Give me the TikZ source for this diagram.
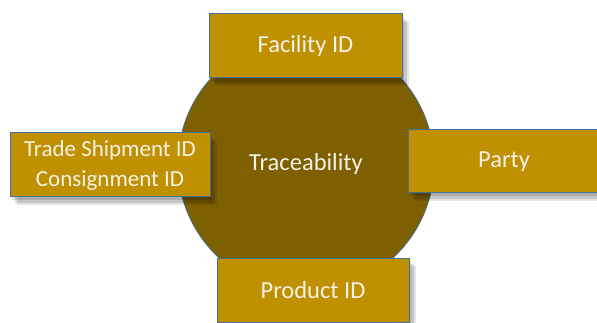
\documentclass[tikz,border=0pt]{standalone}
\usepackage{fontspec}
\setmainfont{Carlito}
\usetikzlibrary{shadows}
\definecolor{darkgold}{HTML}{7F6000}
\definecolor{gold}{HTML}{BF9000}
\definecolor{edgeblue}{HTML}{41719C}
\definecolor{txt}{HTML}{F4F1E8}
\begin{document}
\begin{tikzpicture}[x=1pt,y=-1pt,
  shad/.style={
    drop shadow={shadow xshift=2pt, shadow yshift=-3pt, fill=black, opacity=0.12},
    drop shadow={shadow xshift=5pt, shadow yshift=-6pt, fill=black, opacity=0.14},
    drop shadow={shadow xshift=7pt, shadow yshift=-8pt, fill=black, opacity=0.10}},
  box/.style={shad, draw=edgeblue, line width=1pt, fill=gold, text=txt,
    font=\fontsize{24.5}{30}\selectfont, align=center, inner sep=0pt,
    minimum height=64pt},
  hub/.style={circle, draw=edgeblue, line width=0.8pt, fill=darkgold, text=txt,
    font=\fontsize{24.5}{30}\selectfont, inner sep=0pt, minimum size=256pt}]
\useasboundingbox (0,0) rectangle (597,323);
\node[hub] (trace) at (306,164) {Traceability};
\node[box, minimum width=193pt] (facility) at (305.5,46) {Facility ID};
\node[box, minimum width=200pt, font=\fontsize{23}{30}\selectfont] (trade) at (110,165) {Trade Shipment ID\\Consignment ID};
\node[box, minimum width=192pt, minimum height=63pt] (party) at (504,161.5) {Party};
\node[box, minimum width=192pt] (product) at (313,290) {Product ID};
\end{tikzpicture}
\end{document}
